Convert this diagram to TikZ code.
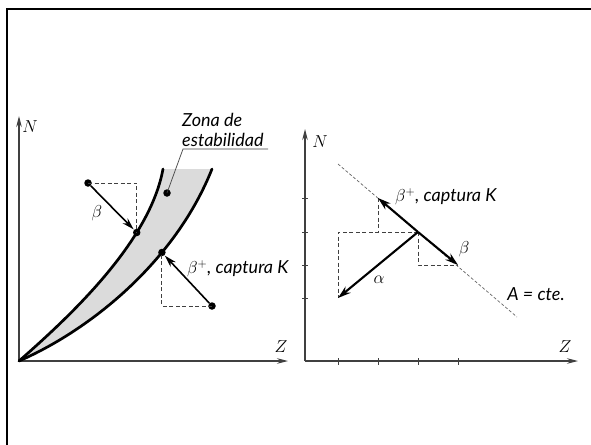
\documentclass[tikz,border=0pt]{standalone}
\usepackage{fontspec}
\setmainfont{Lato}
\usetikzlibrary{arrows.meta}
\begin{document}
\begin{tikzpicture}[x=1pt,y=-1pt,
  axis/.style={line width=1.1pt, draw=black!75, -{Stealth[length=11pt,width=5.5pt]}},
  bound/.style={line width=2.7pt, line cap=round},
  dashline/.style={line width=1pt, draw=black!75, dash pattern=on 4pt off 2.5pt},
  arrA/.style={line width=1.6pt, -{Stealth[length=12pt,width=7pt]}},
  arrB/.style={line width=2.1pt, -{Stealth[length=13pt,width=8pt]}},
  dot/.style={circle, fill=black, inner sep=0pt, minimum size=7.5pt},
  lbl/.style={font=\fontsize{18}{19.5}\selectfont\itshape, inner sep=0pt},
  mlbl/.style={font=\fontsize{18}{19}\selectfont, inner sep=0pt},
  tickmark/.style={line width=1pt, draw=black!75}]
\useasboundingbox (0,0) rectangle (591,444);
% frame
\draw[line width=2.5pt] (7,446) -- (7,9) -- (593,9);

% ---------- left diagram ----------
\coordinate (O1) at (19,361);
\coordinate (X1) at (288,361);
\coordinate (Y1) at (19,116);
\coordinate (Itop) at (163,169);
\coordinate (Otop) at (212,169);
\fill[black!14] (O1) .. controls (75,312) and (150,240) .. (Itop) -- (Otop)
  .. controls (175,262) and (90,330) .. (O1);
\draw[axis] (O1) -- (X1);
\draw[axis] (O1) -- (Y1);
\node[mlbl] (N1) at (30,127) {$N$};
\node[mlbl] (Z1) at (281,347) {$Z$};
\draw[bound] (O1) .. controls (75,312) and (150,240) .. (Itop) coordinate[pos=0.7] (ib);
\draw[bound] (O1) .. controls (90,330) and (175,262) .. (Otop) coordinate[pos=0.67] (ob);

% beta (left)
\node[dot] (b1s) at (88,183) {};
\node[dot] (b1e) at (ib) {};
\draw[dashline] (b1s.center) -- (b1s.center -| b1e.center) -- (b1e.center);
\draw[arrA, shorten >=0.5pt] (b1s) -- (b1e);
\node[mlbl] (lb1) at (97,213) {$\beta$};

% beta+ (left)
\node[dot] (b2e) at (ob) {};
\node[dot] (b2s) at (212,306) {};
\draw[dashline] (b2s.center) -- (b2s.center -| b2e.center) -- (b2e.center);
\draw[arrA, shorten >=0.5pt] (b2s) -- (b2e);
\node[lbl, anchor=west] (lb2) at (187,269) {$\beta^{+}$, captura K};

% zona de estabilidad
\node[dot] (zd) at (167,193) {};
\coordinate (zk) at (183,149);
\coordinate (zr) at (268,149);
\draw[line width=0.7pt, draw=black!75] (zd.center) -- (zk) -- (zr);
\node[lbl, anchor=south west, align=left] (zl) at (182,146.5) {Zona de\\estabilidad};

% ---------- right diagram ----------
\coordinate (O2) at (305,361);
\coordinate (X2) at (578,361);
\coordinate (Y2) at (305,129);
\draw[axis] (O2) -- (X2);
\draw[axis] (O2) -- (Y2);
\node[mlbl] (N2) at (320,142) {$N$};
\node[mlbl] (Z2) at (565,347) {$Z$};
\foreach \xx in {338,378,418,458} \draw[tickmark] (\xx,358) -- (\xx,365);
\foreach \yy in {198,232,265,298} \draw[tickmark] (302,\yy) -- (308,\yy);

\coordinate (ca) at (338,164);
\coordinate (cb) at (517,317);
\draw[line width=0.7pt, draw=black!60, dash pattern=on 3pt off 2pt] (ca) -- (cb);

\coordinate (c) at (418,232);
\coordinate (bp) at (378,198);
\coordinate (bm) at (458,265);
\coordinate (al) at (338,298);
\draw[dashline] (bp) -- (bp |- c);
\draw[dashline] (c) -- (al |- c) -- (al);
\draw[dashline] (c) -- (c |- bm) -- (bm);
\draw[arrB] (c) -- (bp);
\draw[arrB] (c) -- (bm);
\draw[arrB] (c) -- (al);
\node[lbl, anchor=west] (lb3) at (395,197) {$\beta^{+}$, captura K};
\node[mlbl] (lb4) at (464,249) {$\beta$};
\node[mlbl] (lb5) at (379,280) {$\alpha$};
\node[lbl] (lb6) at (536,294) {A = cte.};
\end{tikzpicture}
\end{document}
